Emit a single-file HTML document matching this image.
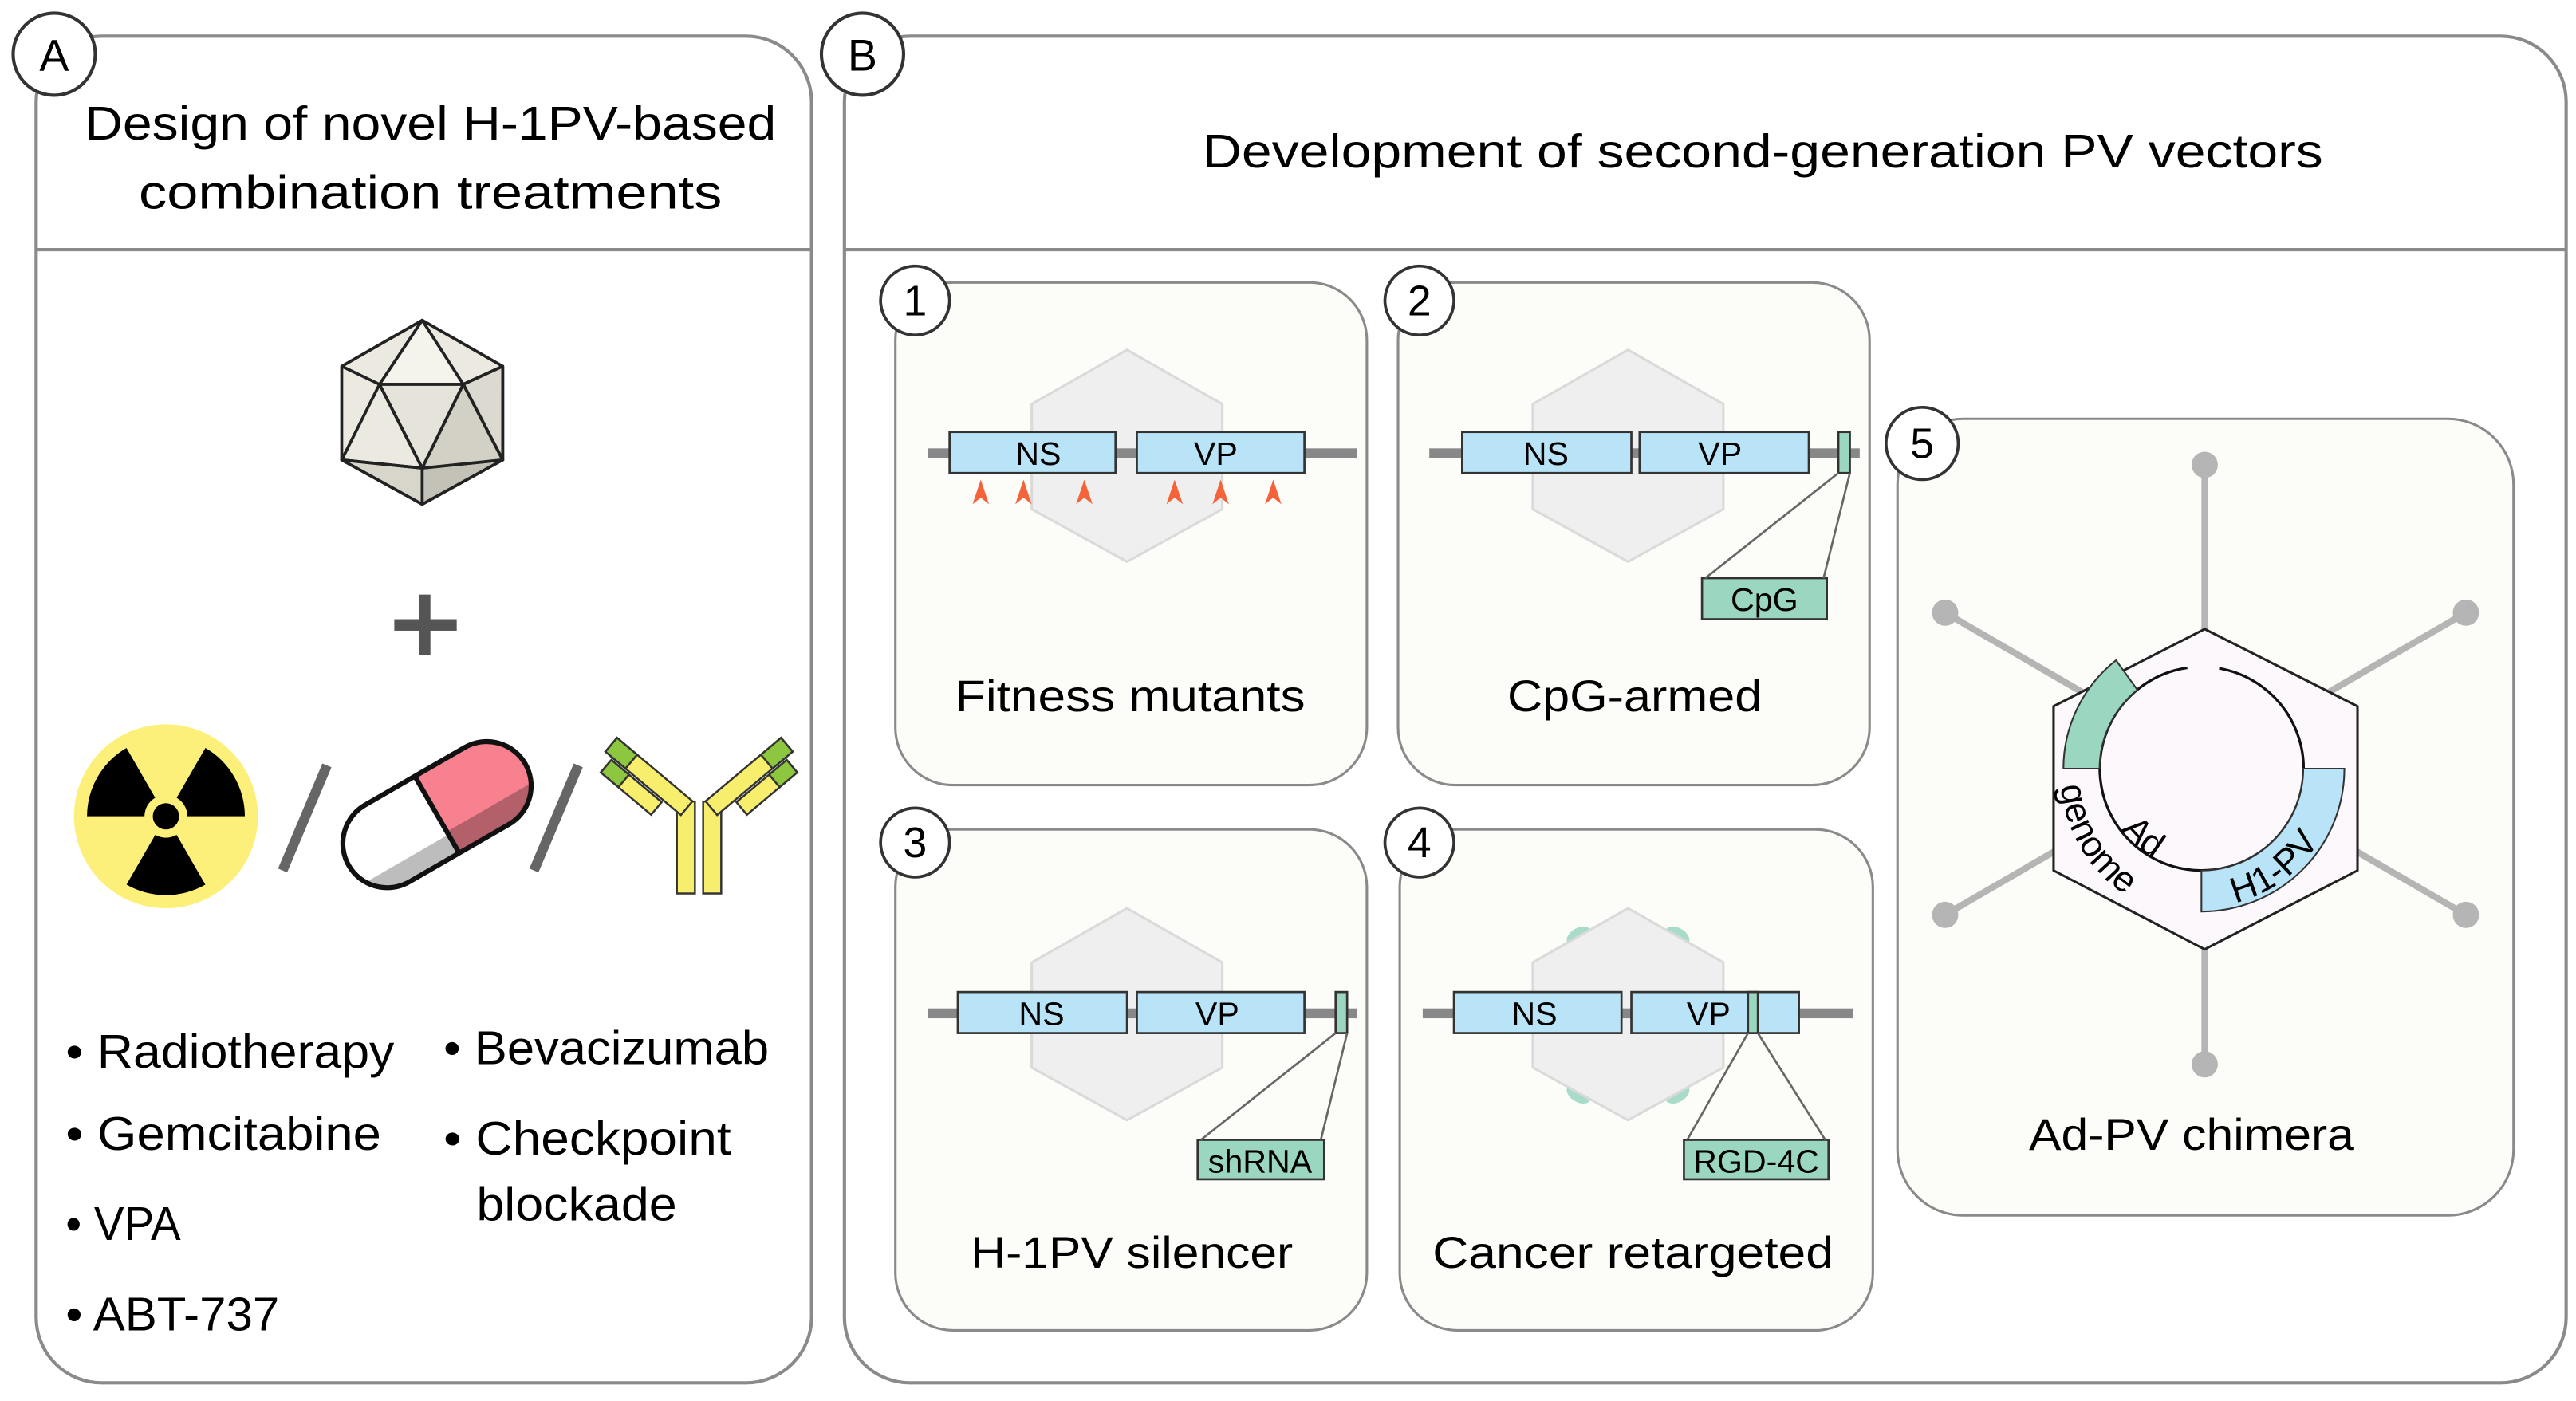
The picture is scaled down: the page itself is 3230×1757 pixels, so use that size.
<!DOCTYPE html>
<html><head><meta charset="utf-8"><style>html,body{margin:0;padding:0;background:#fff}svg{display:block}</style></head>
<body>
<svg width="3230" height="1757" viewBox="0 0 1568 853" preserveAspectRatio="none" xmlns="http://www.w3.org/2000/svg" font-family="Liberation Sans, sans-serif">
<rect width="1568" height="853" fill="#fff"/>
<!-- Panel A -->
<rect x="22" y="22" width="472" height="820" rx="40" fill="#fff" stroke="#8a8a8a" stroke-width="2"/>
<line x1="22" y1="152" x2="494" y2="152" stroke="#8a8a8a" stroke-width="2"/>
<circle cx="33" cy="33" r="25" fill="#fff" stroke="#333" stroke-width="2"/>
<text x="33" y="43" font-size="27" text-anchor="middle">A</text>
<text x="262" y="85" font-size="29" text-anchor="middle" textLength="421" lengthAdjust="spacingAndGlyphs">Design of novel H-1PV-based</text>
<text x="262" y="127" font-size="29" text-anchor="middle" textLength="355" lengthAdjust="spacingAndGlyphs">combination treatments</text>
<!-- icosahedron -->
<g stroke="#222" stroke-width="1.8" stroke-linejoin="round">
<polygon points="257,195 306,223 306,280 257,307 208,280 208,223" fill="#ebe9e0"/>
<polygon points="257,195 231,234 282,234" fill="#f4f3ec"/>
<polygon points="231,234 282,234 257,285" fill="#e6e4da"/>
<polygon points="208,280 257,285 257,307" fill="#d8d6cb"/>
<polygon points="306,280 257,285 257,307" fill="#c4c1b6"/>
<polygon points="282,234 306,223 306,280" fill="#dcdad0"/>
<polygon points="282,234 306,280 257,285" fill="#d3d1c6"/>
<polyline fill="none" points="208,223 231,234 208,280 257,285 231,234"/>
<polyline fill="none" points="306,223 282,234 306,280"/>
</g>
<rect x="240" y="377" width="38" height="7" fill="#555"/>
<rect x="255" y="362" width="7" height="37" fill="#555"/>
<!-- radiation -->
<circle cx="101" cy="497" r="56" fill="#fdf07a"/>
<g fill="#000">
<path id="blade" d="M107.5,508.3 L125,538.6 A48,48 0 0 1 77,538.6 L94.5,508.3 A13,13 0 0 0 107.5,508.3 Z"/>
<use href="#blade" transform="rotate(120 101 497)"/>
<use href="#blade" transform="rotate(240 101 497)"/>
</g>
<circle cx="101" cy="497" r="8" fill="#000"/>
<line x1="172" y1="530" x2="199" y2="466" stroke="#666" stroke-width="6"/>
<line x1="325" y1="530" x2="352" y2="466" stroke="#666" stroke-width="6"/>
<!-- pill -->
<g transform="rotate(-30 266 496)">
<clipPath id="pc"><rect x="204" y="469" width="124" height="54" rx="27"/></clipPath>
<g clip-path="url(#pc)">
<rect x="200" y="465" width="70" height="62" fill="#fff"/>
<rect x="200" y="510" width="70" height="15" fill="#bdbdbd"/>
<rect x="266" y="465" width="66" height="62" fill="#f7818f"/>
<rect x="266" y="508" width="66" height="17" fill="#b4606b"/>
</g>
<line x1="266" y1="469" x2="266" y2="523" stroke="#111" stroke-width="3"/>
<rect x="204" y="469" width="124" height="54" rx="27" fill="none" stroke="#111" stroke-width="3"/>
</g>
<!-- antibody -->
<g stroke="#333" stroke-width="1.2">
<rect x="412" y="488" width="11" height="56" fill="#f7ee6e"/>
<rect x="428" y="488" width="11" height="56" fill="#f7ee6e"/>
<g transform="translate(418,492) rotate(-140)">
<rect x="0" y="-5.5" width="60" height="11" fill="#f7ee6e"/>
<rect x="44" y="-5.5" width="16" height="11" fill="#8dc63f"/>
<rect x="14" y="-17" width="40" height="10" fill="#f7ee6e"/>
<rect x="40" y="-17" width="14" height="10" fill="#8dc63f"/>
</g>
<g transform="translate(433,492) rotate(-40)">
<rect x="0" y="-5.5" width="60" height="11" fill="#f7ee6e"/>
<rect x="44" y="-5.5" width="16" height="11" fill="#8dc63f"/>
<rect x="14" y="7" width="40" height="10" fill="#f7ee6e"/>
<rect x="40" y="7" width="14" height="10" fill="#8dc63f"/>
</g>
</g>
<g font-size="29">
<text x="40" y="650" textLength="200" lengthAdjust="spacingAndGlyphs">• Radiotherapy</text>
<text x="40" y="700" textLength="192" lengthAdjust="spacingAndGlyphs">• Gemcitabine</text>
<text x="40" y="755" textLength="70" lengthAdjust="spacingAndGlyphs">• VPA</text>
<text x="40" y="810" textLength="130" lengthAdjust="spacingAndGlyphs">• ABT-737</text>
<text x="270" y="648" textLength="198" lengthAdjust="spacingAndGlyphs">• Bevacizumab</text>
<text x="270" y="703" textLength="175" lengthAdjust="spacingAndGlyphs">• Checkpoint</text>
<text x="290" y="743" textLength="122" lengthAdjust="spacingAndGlyphs">blockade</text>
</g>
<!-- Panel B -->
<rect x="514" y="22" width="1048" height="820" rx="40" fill="#fff" stroke="#8a8a8a" stroke-width="2"/>
<line x1="514" y1="152" x2="1562" y2="152" stroke="#8a8a8a" stroke-width="2"/>
<circle cx="525" cy="33" r="25" fill="#fff" stroke="#333" stroke-width="2"/>
<text x="525" y="43" font-size="27" text-anchor="middle">B</text>
<text x="1073" y="102" font-size="29" text-anchor="middle" textLength="682" lengthAdjust="spacingAndGlyphs">Development of second-generation PV vectors</text>
<defs>
<path id="hex" d="M0,-64 L58,-31 L58,33 L0,65 L-58,33 L-58,-31 Z"/>
</defs>
<g fill="#fcfcf8" stroke="#8a8a8a" stroke-width="1.5">
<rect x="545" y="172" width="287" height="306" rx="35"/>
<rect x="851" y="172" width="287" height="306" rx="35"/>
<rect x="545" y="505" width="287" height="305" rx="35"/>
<rect x="852" y="505" width="288" height="305" rx="35"/>
<rect x="1155" y="255" width="375" height="485" rx="40"/>
</g>
<g fill="#fff" stroke="#333" stroke-width="1.8">
<circle cx="557" cy="183" r="21"/><circle cx="864" cy="183" r="21"/>
<circle cx="557" cy="513" r="21"/><circle cx="864" cy="513" r="21"/>
<circle cx="1170" cy="270" r="22"/>
</g>
<g font-size="26" text-anchor="middle">
<text x="557" y="192">1</text><text x="864" y="192">2</text>
<text x="557" y="522">3</text><text x="864" y="522">4</text>
<text x="1170" y="279">5</text>
</g>
<!-- capsid hexes -->
<g fill="#efefef" stroke="#dadada" stroke-width="1.5" stroke-linejoin="round">
<use href="#hex" x="686" y="277"/><use href="#hex" x="991" y="277"/>
<use href="#hex" x="686" y="617"/>
</g>
<g fill="#a8dcc8">
<ellipse cx="961" cy="570" rx="8" ry="5" transform="rotate(-30 961 570)"/>
<ellipse cx="1021" cy="570" rx="8" ry="5" transform="rotate(30 1021 570)"/>
<ellipse cx="961" cy="666" rx="8" ry="5" transform="rotate(30 961 666)"/>
<ellipse cx="1021" cy="666" rx="8" ry="5" transform="rotate(-30 1021 666)"/>
</g>
<use href="#hex" x="991" y="617" fill="#efefef" stroke="#dadada" stroke-width="1.5"/>
<g fill="#888">
<rect x="565" y="273" width="261" height="6"/>
<rect x="870" y="273" width="262" height="6"/>
<rect x="565" y="614" width="261" height="6"/>
<rect x="866" y="614" width="262" height="6"/>
</g>
<g fill="#b9e4f7" stroke="#333" stroke-width="1.3">
<rect x="578" y="263" width="101" height="25"/><rect x="692" y="263" width="102" height="25"/>
<rect x="890" y="263" width="103" height="25"/><rect x="998" y="263" width="103" height="25"/>
<rect x="583" y="604" width="103" height="25"/><rect x="692" y="604" width="102" height="25"/>
<rect x="885" y="604" width="102" height="25"/><rect x="993" y="604" width="102" height="25"/>
</g>
<g fill="#9ad6c0" stroke="#333" stroke-width="1.3">
<rect x="1119" y="263" width="7" height="25"/><rect x="813" y="604" width="7" height="25"/>
<rect x="1064" y="604" width="6" height="25"/>
<rect x="1036" y="352" width="76" height="25"/>
<rect x="729" y="694" width="77" height="24"/>
<rect x="1025" y="694" width="88" height="24"/>
</g>
<g stroke="#666" stroke-width="1.3">
<line x1="1119" y1="288" x2="1038" y2="352"/><line x1="1126" y1="288" x2="1110" y2="352"/>
<line x1="813" y1="629" x2="731" y2="694"/><line x1="820" y1="629" x2="804" y2="694"/>
<line x1="1064" y1="629" x2="1027" y2="694"/><line x1="1070" y1="629" x2="1111" y2="694"/>
</g>
<g font-size="20" text-anchor="middle">
<text x="632" y="283">NS</text><text x="740" y="283">VP</text>
<text x="941" y="283">NS</text><text x="1047" y="283">VP</text>
<text x="634" y="624">NS</text><text x="741" y="624">VP</text>
<text x="934" y="624">NS</text><text x="1040" y="624">VP</text>
<text x="1074" y="372">CpG</text><text x="767" y="714">shRNA</text><text x="1069" y="714">RGD-4C</text>
</g>
<g fill="#f4633a">
<path d="M597,292 l-5,15 l5,-4 l5,4 z"/><path d="M623,292 l-5,15 l5,-4 l5,4 z"/>
<path d="M660,292 l-5,15 l5,-4 l5,4 z"/><path d="M715,292 l-5,15 l5,-4 l5,4 z"/>
<path d="M743,292 l-5,15 l5,-4 l5,4 z"/><path d="M775,292 l-5,15 l5,-4 l5,4 z"/>
</g>
<g font-size="27" text-anchor="middle">
<text x="688" y="433" textLength="213" lengthAdjust="spacingAndGlyphs">Fitness mutants</text>
<text x="995" y="433" textLength="155" lengthAdjust="spacingAndGlyphs">CpG-armed</text>
<text x="689" y="772" textLength="196" lengthAdjust="spacingAndGlyphs">H-1PV silencer</text>
<text x="994" y="772" textLength="244" lengthAdjust="spacingAndGlyphs">Cancer retargeted</text>
<text x="1334" y="700" textLength="198" lengthAdjust="spacingAndGlyphs">Ad-PV chimera</text>
</g>
<!-- Panel 5 -->
<g stroke="#b5b5b5" stroke-width="4">
<line x1="1342" y1="283" x2="1342" y2="648"/>
<line x1="1184" y1="373" x2="1501" y2="557"/>
<line x1="1501" y1="373" x2="1184" y2="557"/>
</g>
<g fill="#b5b5b5">
<circle cx="1342" cy="283" r="8"/><circle cx="1342" cy="648" r="8"/>
<circle cx="1184" cy="373" r="8"/><circle cx="1501" cy="373" r="8"/>
<circle cx="1184" cy="557" r="8"/><circle cx="1501" cy="557" r="8"/>
</g>
<path d="M1342,383 L1435,430 L1435,530 L1342,578 L1250,530 L1250,430 Z" fill="#fcf8fc" stroke="#222" stroke-width="1.5" stroke-linejoin="round"/>
<path d="M1350.8,406.9 A62,62 0 1 1 1331.4,406.6" fill="none" stroke="#111" stroke-width="1.6"/>
<path d="M1256,468 A84,84 0 0 1 1288,402 L1301,420 A62,62 0 0 0 1278,468 Z" fill="#9ad6c0" stroke="#333" stroke-width="1"/>
<path d="M1402,468 L1427,468 A87,87 0 0 1 1340,555 L1340,530 A62,62 0 0 0 1402,468 Z" fill="#b9e4f7" stroke="#333" stroke-width="1"/>
<defs>
<path id="arcH" d="M1333,552 A84,84 0 0 0 1424,468"/>
<path id="arcG" d="M1254,476 A90,90 0 0 0 1346,560"/>
<path id="arcA" d="M1288,500 A60,60 0 0 0 1336,530"/>
</defs>
<g font-size="22">
<text><textPath href="#arcH" startOffset="20%">H1-PV</textPath></text>
<text><textPath href="#arcG" startOffset="2%">genome</textPath></text>
<text><textPath href="#arcA" startOffset="10%">Ad</textPath></text>
</g>
</svg>
</body></html>
